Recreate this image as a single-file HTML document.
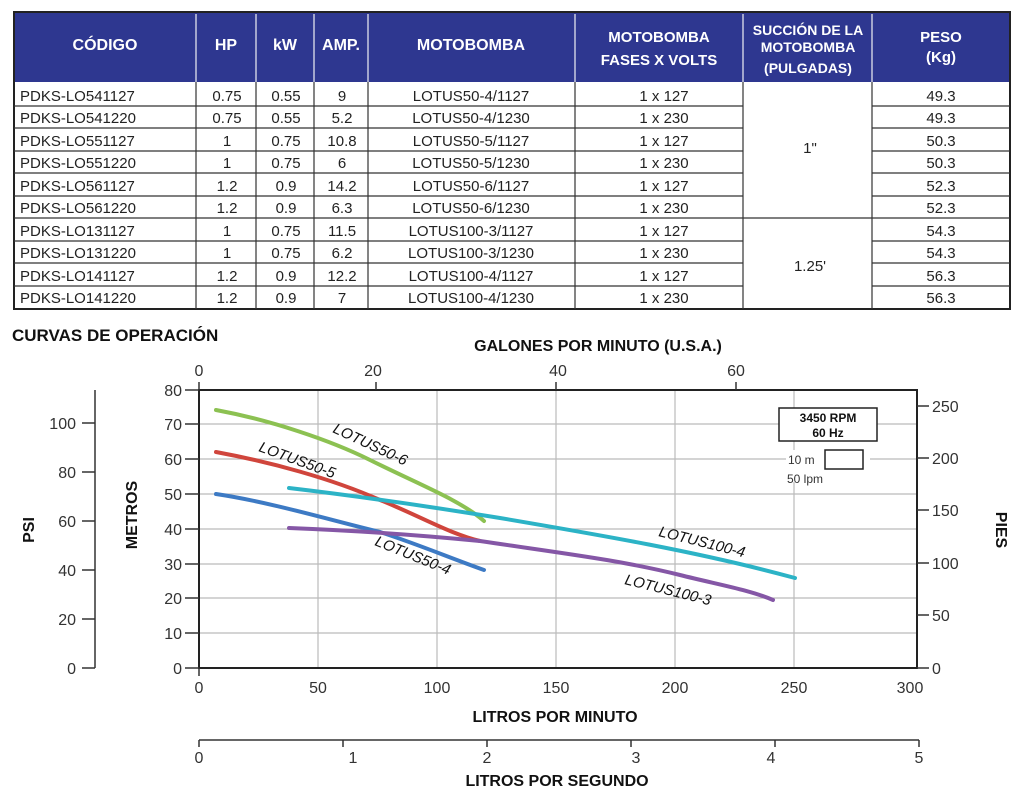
<!DOCTYPE html>
<html><head><meta charset="utf-8"><style>
body{margin:0;background:#fff;width:1024px;height:799px;overflow:hidden;font-family:"Liberation Sans",sans-serif}
svg text{font-family:"Liberation Sans",sans-serif}
</style></head><body>
<svg width="1024" height="799" viewBox="0 0 1024 799" xmlns="http://www.w3.org/2000/svg">
<rect x="14" y="12" width="996" height="70" fill="#2e3790"/>
<g stroke="#c8cce0" stroke-width="1.5">
<line x1="196" y1="14" x2="196" y2="82"/><line x1="256" y1="14" x2="256" y2="82"/><line x1="314" y1="14" x2="314" y2="82"/><line x1="368" y1="14" x2="368" y2="82"/><line x1="575" y1="14" x2="575" y2="82"/><line x1="743" y1="14" x2="743" y2="82"/><line x1="872" y1="14" x2="872" y2="82"/>
</g>
<g fill="#fff" font-weight="bold" font-size="16" text-anchor="middle">
<text x="105" y="50">CÓDIGO</text><text x="226" y="50">HP</text><text x="285" y="50">kW</text><text x="341" y="50">AMP.</text><text x="471" y="50">MOTOBOMBA</text>
<text x="659" y="42" font-size="15">MOTOBOMBA</text><text x="659" y="65" font-size="15">FASES X VOLTS</text>
<text x="808" y="35" font-size="14">SUCCIÓN DE LA</text><text x="808" y="52" font-size="14">MOTOBOMBA</text><text x="808" y="73" font-size="14">(PULGADAS)</text>
<text x="941" y="42" font-size="15">PESO</text><text x="941" y="62" font-size="15">(Kg)</text>
</g>
<rect x="14" y="12" width="996" height="297" fill="none" stroke="#222" stroke-width="2"/>
<g stroke="#333" stroke-width="1.2">
<line x1="196" y1="82" x2="196" y2="309"/><line x1="256" y1="82" x2="256" y2="309"/><line x1="314" y1="82" x2="314" y2="309"/><line x1="368" y1="82" x2="368" y2="309"/><line x1="575" y1="82" x2="575" y2="309"/><line x1="743" y1="82" x2="743" y2="309"/><line x1="872" y1="82" x2="872" y2="309"/>
<line x1="14" y1="106" x2="743" y2="106"/><line x1="14" y1="128" x2="743" y2="128"/><line x1="14" y1="151" x2="743" y2="151"/><line x1="14" y1="173" x2="743" y2="173"/><line x1="14" y1="196" x2="743" y2="196"/><line x1="14" y1="218" x2="1010" y2="218"/><line x1="14" y1="241" x2="743" y2="241"/><line x1="14" y1="263" x2="743" y2="263"/><line x1="14" y1="286" x2="743" y2="286"/>
<line x1="872" y1="106" x2="1010" y2="106"/><line x1="872" y1="128" x2="1010" y2="128"/><line x1="872" y1="151" x2="1010" y2="151"/><line x1="872" y1="173" x2="1010" y2="173"/><line x1="872" y1="196" x2="1010" y2="196"/><line x1="872" y1="241" x2="1010" y2="241"/><line x1="872" y1="263" x2="1010" y2="263"/><line x1="872" y1="286" x2="1010" y2="286"/>
</g>
<g font-size="15" fill="#222">
<g><text x="20" y="101">PDKS-LO541127</text><text x="20" y="123">PDKS-LO541220</text><text x="20" y="146">PDKS-LO551127</text><text x="20" y="168">PDKS-LO551220</text><text x="20" y="191">PDKS-LO561127</text><text x="20" y="213">PDKS-LO561220</text><text x="20" y="236">PDKS-LO131127</text><text x="20" y="258">PDKS-LO131220</text><text x="20" y="281">PDKS-LO141127</text><text x="20" y="303">PDKS-LO141220</text></g>
<g text-anchor="middle">
<text x="227" y="101">0.75</text><text x="227" y="123">0.75</text><text x="227" y="146">1</text><text x="227" y="168">1</text><text x="227" y="191">1.2</text><text x="227" y="213">1.2</text><text x="227" y="236">1</text><text x="227" y="258">1</text><text x="227" y="281">1.2</text><text x="227" y="303">1.2</text>
<text x="286" y="101">0.55</text><text x="286" y="123">0.55</text><text x="286" y="146">0.75</text><text x="286" y="168">0.75</text><text x="286" y="191">0.9</text><text x="286" y="213">0.9</text><text x="286" y="236">0.75</text><text x="286" y="258">0.75</text><text x="286" y="281">0.9</text><text x="286" y="303">0.9</text>
<text x="342" y="101">9</text><text x="342" y="123">5.2</text><text x="342" y="146">10.8</text><text x="342" y="168">6</text><text x="342" y="191">14.2</text><text x="342" y="213">6.3</text><text x="342" y="236">11.5</text><text x="342" y="258">6.2</text><text x="342" y="281">12.2</text><text x="342" y="303">7</text>
<text x="471" y="101">LOTUS50-4/1127</text><text x="471" y="123">LOTUS50-4/1230</text><text x="471" y="146">LOTUS50-5/1127</text><text x="471" y="168">LOTUS50-5/1230</text><text x="471" y="191">LOTUS50-6/1127</text><text x="471" y="213">LOTUS50-6/1230</text><text x="471" y="236">LOTUS100-3/1127</text><text x="471" y="258">LOTUS100-3/1230</text><text x="471" y="281">LOTUS100-4/1127</text><text x="471" y="303">LOTUS100-4/1230</text>
<text x="664" y="101">1 x 127</text><text x="664" y="123">1 x 230</text><text x="664" y="146">1 x 127</text><text x="664" y="168">1 x 230</text><text x="664" y="191">1 x 127</text><text x="664" y="213">1 x 230</text><text x="664" y="236">1 x 127</text><text x="664" y="258">1 x 230</text><text x="664" y="281">1 x 127</text><text x="664" y="303">1 x 230</text>
<text x="810" y="153">1"</text><text x="810" y="271">1.25'</text>
<text x="941" y="101">49.3</text><text x="941" y="123">49.3</text><text x="941" y="146">50.3</text><text x="941" y="168">50.3</text><text x="941" y="191">52.3</text><text x="941" y="213">52.3</text><text x="941" y="236">54.3</text><text x="941" y="258">54.3</text><text x="941" y="281">56.3</text><text x="941" y="303">56.3</text>
</g></g>
<text x="12" y="341" font-size="17" font-weight="bold" fill="#111">CURVAS DE OPERACIÓN</text>

<g stroke="#bbb" stroke-width="1.2">
<line x1="318" y1="390" x2="318" y2="668"/><line x1="437" y1="390" x2="437" y2="668"/><line x1="556" y1="390" x2="556" y2="668"/><line x1="675" y1="390" x2="675" y2="668"/><line x1="794" y1="390" x2="794" y2="668"/>
<line x1="199" y1="424" x2="917" y2="424"/><line x1="199" y1="459" x2="917" y2="459"/><line x1="199" y1="494" x2="917" y2="494"/><line x1="199" y1="529" x2="917" y2="529"/><line x1="199" y1="564" x2="917" y2="564"/><line x1="199" y1="598" x2="917" y2="598"/><line x1="199" y1="633" x2="917" y2="633"/>
</g>
<rect x="199" y="390" width="718" height="278" fill="none" stroke="#222" stroke-width="2"/>
<g stroke="#333" stroke-width="1.5">
<line x1="185" y1="390" x2="199" y2="390"/><line x1="185" y1="424" x2="199" y2="424"/><line x1="185" y1="459" x2="199" y2="459"/><line x1="185" y1="494" x2="199" y2="494"/><line x1="185" y1="529" x2="199" y2="529"/><line x1="185" y1="564" x2="199" y2="564"/><line x1="185" y1="598" x2="199" y2="598"/><line x1="185" y1="633" x2="199" y2="633"/><line x1="185" y1="668" x2="199" y2="668"/>
<line x1="917" y1="668" x2="929" y2="668"/><line x1="917" y1="615" x2="929" y2="615"/><line x1="917" y1="563" x2="929" y2="563"/><line x1="917" y1="510" x2="929" y2="510"/><line x1="917" y1="458" x2="929" y2="458"/><line x1="917" y1="406" x2="929" y2="406"/>
<line x1="199" y1="668" x2="199" y2="676"/>
<line x1="199" y1="382" x2="199" y2="390"/><line x1="376" y1="382" x2="376" y2="390"/><line x1="556" y1="382" x2="556" y2="390"/><line x1="736" y1="382" x2="736" y2="390"/>
<line x1="95" y1="390" x2="95" y2="668"/><line x1="82" y1="423" x2="95" y2="423"/><line x1="82" y1="472" x2="95" y2="472"/><line x1="82" y1="521" x2="95" y2="521"/><line x1="82" y1="570" x2="95" y2="570"/><line x1="82" y1="619" x2="95" y2="619"/><line x1="82" y1="668" x2="95" y2="668"/>
<line x1="199" y1="740" x2="919" y2="740"/><line x1="199" y1="740" x2="199" y2="747"/><line x1="343" y1="740" x2="343" y2="747"/><line x1="487" y1="740" x2="487" y2="747"/><line x1="631" y1="740" x2="631" y2="747"/><line x1="775" y1="740" x2="775" y2="747"/><line x1="919" y1="740" x2="919" y2="747"/>
</g>
<g font-size="16" fill="#333">
<g text-anchor="end"><text x="182" y="396">80</text><text x="182" y="430">70</text><text x="182" y="465">60</text><text x="182" y="500">50</text><text x="182" y="535">40</text><text x="182" y="570">30</text><text x="182" y="604">20</text><text x="182" y="639">10</text><text x="182" y="674">0</text>
<text x="76" y="429">100</text><text x="76" y="478">80</text><text x="76" y="527">60</text><text x="76" y="576">40</text><text x="76" y="625">20</text><text x="76" y="674">0</text></g>
<g text-anchor="start"><text x="932" y="412">250</text><text x="932" y="464">200</text><text x="932" y="516">150</text><text x="932" y="569">100</text><text x="932" y="621">50</text><text x="932" y="674">0</text></g>
<g text-anchor="middle"><text x="199" y="693">0</text><text x="318" y="693">50</text><text x="437" y="693">100</text><text x="556" y="693">150</text><text x="675" y="693">200</text><text x="794" y="693">250</text><text x="910" y="693">300</text>
<text x="199" y="376">0</text><text x="373" y="376">20</text><text x="558" y="376">40</text><text x="736" y="376">60</text>
<text x="199" y="763">0</text><text x="353" y="763">1</text><text x="487" y="763">2</text><text x="636" y="763">3</text><text x="771" y="763">4</text><text x="919" y="763">5</text></g>
</g>
<g font-size="16" font-weight="bold" fill="#111" text-anchor="middle">
<text x="598" y="351">GALONES POR MINUTO (U.S.A.)</text>
<text x="555" y="722">LITROS POR MINUTO</text>
<text x="557" y="786">LITROS POR SEGUNDO</text>
<text transform="translate(34,530) rotate(-90)">PSI</text>
<text transform="translate(137,515) rotate(-90)">METROS</text>
<text transform="translate(996,530) rotate(90)">PIES</text>
</g>
<g fill="none" stroke-width="4" stroke-linecap="round">
<path d="M216,410 C270,420 330,440 370,460 C420,485 460,500 484,521" stroke="#8cc152"/>
<path d="M216,452 C270,462 330,478 380,500 C420,516 450,534 480,541" stroke="#d0453c"/>
<path d="M216,494 C270,502 330,520 380,532 C420,545 450,558 484,570" stroke="#3d7ac4"/>
<path d="M289,528 C340,530 400,533 480,541 C560,553 620,560 680,575 C720,585 750,590 773,600" stroke="#8557a6"/>
<path d="M289,488 C340,494 420,505 500,518 C600,535 700,552 795,578" stroke="#2cb3c6"/>
</g>
<g font-size="15" fill="#111" font-style="italic">
<text transform="translate(332,432) rotate(25)">LOTUS50-6</text>
<text transform="translate(258,451) rotate(20)">LOTUS50-5</text>
<text transform="translate(374,545) rotate(22)">LOTUS50-4</text>
<text transform="translate(658,536) rotate(14)">LOTUS100-4</text>
<text transform="translate(624,584) rotate(14)">LOTUS100-3</text>
</g>
<rect x="779" y="408" width="98" height="33" fill="#fff" stroke="#222" stroke-width="1.5"/>
<g font-size="12" font-weight="bold" text-anchor="middle" fill="#111"><text x="828" y="422">3450 RPM</text><text x="828" y="437">60 Hz</text></g>
<rect x="786" y="450" width="84" height="32" fill="#fff"/>
<rect x="825" y="450" width="38" height="19" fill="#fff" stroke="#222" stroke-width="1.5"/>
<g font-size="12" fill="#333"><text x="788" y="464">10 m</text><text x="787" y="483">50 lpm</text></g>
</svg>
</body></html>
